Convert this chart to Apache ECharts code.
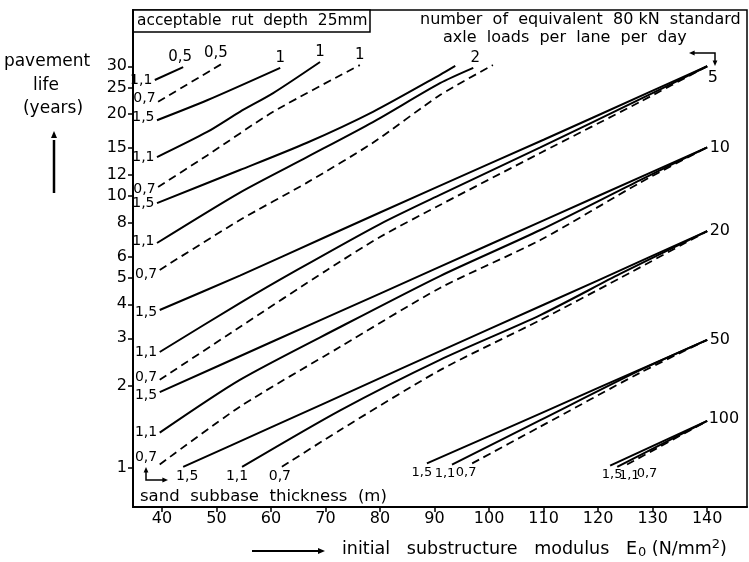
<!DOCTYPE html>
<html>
<head>
<meta charset="utf-8">
<script src="https://cdn.jsdelivr.net/npm/echarts@6/dist/echarts.min.js"></script>
<style>
  html, body { margin: 0; padding: 0; background: #fff; }
  #chart { width: 749px; height: 562px; }
</style>
</head>
<body>
<div id="chart"></div>
<script>
// tick labels
const xTicks = [40, 50, 60, 70, 80, 90, 100, 110, 120, 130, 140];
const yTicks = [1, 2, 3, 4, 5, 6, 8, 10, 12, 15, 20, 25, 30];

// curves: [E0 (N/mm2), pavement life (years)], read off the nomograph
// 0.5 axle loads / day
const n05_t11 = [[38.7, 26.7], [43.9, 29.8]];
const n05_t07 = [[39.3, 22.2], [51.2, 30.8]];
// 1
const n1_t15 = [[39.1, 19.0], [48.3, 22.5], [61.7, 29.6]];
const n1_t11 = [[39.1, 13.9], [48.3, 17.2], [54.3, 20.4], [60.4, 23.9], [69.0, 31.1]];
const n1_t07 = [[39.3, 10.8], [48.3, 14.1], [60.4, 20.4], [76.3, 30.3]];
// 2
const n2_t15 = [[39.1, 9.42], [54.3, 12.46], [66.6, 15.7], [78.7, 20.4], [91.0, 27.9], [93.8, 30.1]];
const n2_t11 = [[39.1, 6.72], [54.3, 10.3], [66.6, 13.9], [78.7, 18.7], [91.0, 26.0], [97.1, 29.6]];
const n2_t07 = [[39.6, 5.35], [54.3, 8.16], [66.6, 11.2], [78.7, 15.7], [91.0, 23.5], [100.7, 30.3]];
// 5
const n5_t15 = [[39.6, 3.81], [54.3, 5.1], [70, 7.07], [90, 10.7], [110, 16.1], [130, 24.4], [140, 30.0]];
const n5_t11 = [[39.6, 2.67], [54.3, 4.04], [64.8, 5.35], [80, 7.89], [91.0, 10.1], [109.4, 15.1], [127.7, 22.7], [140, 30.0]];
const n5_t07 = [[39.6, 2.11], [54.3, 3.30], [70.3, 5.35], [80, 7.07], [91.0, 9.27], [109.4, 14.4], [127.7, 22.2], [140, 30.0]];
// 10
const n10_t15 = [[39.6, 1.90], [60, 2.90], [80, 4.38], [100, 6.62], [120, 10.0], [140, 15.1]];
const n10_t11 = [[39.6, 1.35], [54.3, 2.11], [72.7, 3.30], [91.0, 5.08], [109.4, 7.50], [127.7, 11.45], [140, 15.1]];
const n10_t07 = [[39.6, 1.03], [54.3, 1.68], [72.7, 2.79], [91.0, 4.59], [109.4, 6.89], [127.7, 11.2], [140, 15.1]];
// 20
const n20_t15 = [[43.9, 1.01], [60, 1.41], [80, 2.14], [100, 3.24], [120, 4.90], [140, 7.43]];
const n20_t11 = [[54.7, 1.01], [72.7, 1.63], [91.0, 2.50], [109.4, 3.65], [124.0, 5.17], [140, 7.43]];
const n20_t07 = [[62.0, 1.01], [72.7, 1.38], [91.0, 2.29], [109.4, 3.50], [124.0, 4.99], [140, 7.43]];
// 50
const n50_t15 = [[88.6, 1.04], [100, 1.31], [120, 1.97], [140, 2.96]];
const n50_t11 = [[93.2, 1.03], [109.4, 1.50], [127.7, 2.29], [140, 2.96]];
const n50_t07 = [[96.9, 1.04], [109.4, 1.42], [127.7, 2.24], [140, 2.96]];
// 100
const n100_t15 = [[122.2, 1.02], [140, 1.49]];
const n100_t11 = [[123.5, 1.01], [140, 1.49]];
const n100_t07 = [[125.3, 1.03], [140, 1.49]];

const FONT = 'DejaVu Sans';
const INK = '#000';

const chart = echarts.init(document.getElementById('chart'));

function curve(d, dashed) {
  return {
    type: 'line',
    data: d,
    showSymbol: false,
    smooth: 0.25,
    silent: true,
    lineStyle: { color: INK, width: dashed ? 1.8 : 2, type: dashed ? [8, 5] : 'solid' }
  };
}

// label anchored on a curve's first or last point
function lab(pt, text, pos, offset, size) {
  return {
    value: pt,
    label: {
      show: true, formatter: text, position: pos, distance: 2,
      offset: offset || [0, 0], fontSize: size || 14, fontFamily: FONT, color: INK
    }
  };
}
const first = d => d[0];
const last = d => d[d.length - 1];

const labels = [
  // thickness at the left edge
  lab(first(n05_t11), '1,1', 'left'), lab(first(n05_t07), '0,7', 'left', [0, -3]),
  lab(first(n1_t15), '1,5', 'left', [0, -3]), lab(first(n1_t11), '1,1', 'left'), lab(first(n1_t07), '0,7', 'left', [0, 2]),
  lab(first(n2_t15), '1,5', 'left'), lab(first(n2_t11), '1,1', 'left', [0, -2]), lab(first(n2_t07), '0,7', 'left', [0, 4]),
  lab(first(n5_t15), '1,5', 'left', [0, 2]), lab(first(n5_t11), '1,1', 'left'), lab(first(n5_t07), '0,7', 'left', [0, -2]),
  lab(first(n10_t15), '1,5', 'left', [0, 3]), lab(first(n10_t11), '1,1', 'left'), lab(first(n10_t07), '0,7', 'left', [0, -7]),
  // thickness at the bottom
  lab(first(n20_t15), '1,5', 'bottom', [4, 0]), lab(first(n20_t11), '1,1', 'bottom', [-5, 0]), lab(first(n20_t07), '0,7', 'bottom', [-2, 0]),
  lab(first(n50_t15), '1,5', 'bottom', [-5, 0], 13), lab(first(n50_t11), '1,1', 'bottom', [-7, 0], 13), lab(first(n50_t07), '0,7', 'bottom', [-6, 0], 13),
  lab(first(n100_t15), '1,5', 'bottom', [2, 0], 13), lab(first(n100_t11), '1,1', 'bottom', [12, 0], 13), lab(first(n100_t07), '0,7', 'bottom', [20, 0], 13),
  // axle loads per day
  lab(last(n05_t11), '0,5', 'top', [-3, 0], 15), lab(last(n05_t07), '0,5', 'top', [-7, 0], 15),
  lab(last(n1_t15), '1', 'top', [0, 0], 15), lab(last(n1_t11), '1', 'top', [0, 0], 15), lab(last(n1_t07), '1', 'top', [0, 0], 15),
  lab(last(n2_t11), '2', 'top', [2, 0], 15),
  lab(last(n5_t15), '5', 'right', [-2, 12], 16), lab(last(n10_t15), '10', 'right', [0, 0], 16),
  lab(last(n20_t15), '20', 'right', [0, 0], 16), lab(last(n50_t15), '50', 'right', [0, 0], 16),
  lab(last(n100_t15), '100', 'right', [-1, -2], 16)
];

const series = [
  curve(n05_t11, false), curve(n05_t07, true),
  curve(n1_t15, false), curve(n1_t11, false), curve(n1_t07, true),
  curve(n2_t15, false), curve(n2_t11, false), curve(n2_t07, true),
  curve(n5_t15, false), curve(n5_t11, false), curve(n5_t07, true),
  curve(n10_t15, false), curve(n10_t11, false), curve(n10_t07, true),
  curve(n20_t15, false), curve(n20_t11, false), curve(n20_t07, true),
  curve(n50_t15, false), curve(n50_t11, false), curve(n50_t07, true),
  curve(n100_t15, false), curve(n100_t11, false), curve(n100_t07, true),
  {
    // scatter defaults to 0.8 opacity, which the labels inherit
    type: 'scatter', data: labels, symbolSize: 1, silent: true,
    itemStyle: { color: 'rgba(0,0,0,0)', opacity: 1 }
  }
];

function txt(x, y, text, size, align, extra) {
  return {
    type: 'text', x: x, y: y, silent: true,
    style: Object.assign({
      text: text, fontSize: size, fontFamily: FONT, fill: INK,
      align: align || 'left', verticalAlign: 'middle'
    }, extra || {})
  };
}
function arrowHead(x, y, dir, s) {
  // small filled triangle pointing in dir
  s = s || 5;
  let pts;
  if (dir === 'up') pts = [[x, y], [x - s * 0.6, y + s * 1.4], [x + s * 0.6, y + s * 1.4]];
  if (dir === 'down') pts = [[x, y], [x - s * 0.6, y - s * 1.4], [x + s * 0.6, y - s * 1.4]];
  if (dir === 'right') pts = [[x, y], [x - s * 1.4, y - s * 0.6], [x - s * 1.4, y + s * 0.6]];
  if (dir === 'left') pts = [[x, y], [x + s * 1.4, y - s * 0.6], [x + s * 1.4, y + s * 0.6]];
  return { type: 'polygon', silent: true, shape: { points: pts }, style: { fill: INK } };
}
function seg(points, w) {
  return { type: 'polyline', silent: true, shape: { points: points }, style: { stroke: INK, lineWidth: w || 1.5, fill: null } };
}

const option = {
  animation: false,
  backgroundColor: '#fff',
  grid: { left: 133, right: 2, top: 10, bottom: 55, show: true, borderColor: INK, borderWidth: 1.5 },
  xAxis: {
    type: 'value', min: 34.7, max: 147.3,
    axisLine: { show: true, lineStyle: { color: INK, width: 2 } },
    axisTick: { show: true, length: 5, customValues: xTicks, lineStyle: { color: INK, width: 1.5 } },
    axisLabel: { customValues: xTicks, fontSize: 16, fontFamily: FONT, color: INK, margin: 4 },
    splitLine: { show: false }
  },
  yAxis: {
    type: 'log', logBase: 10, min: 0.719, max: 48.3,
    axisLine: { show: true, lineStyle: { color: INK, width: 2 } },
    axisTick: { show: true, length: 5, customValues: yTicks, lineStyle: { color: INK, width: 1.5 } },
    axisLabel: { customValues: yTicks, fontSize: 16, fontFamily: FONT, color: INK, margin: 6 },
    splitLine: { show: false },
    minorTick: { show: false }
  },
  graphic: [
    // rut depth box
    { type: 'rect', silent: true, shape: { x: 133, y: 10, width: 237, height: 22 }, style: { fill: '#fff', stroke: INK, lineWidth: 1.5 } },
    txt(137, 21, 'acceptable  rut  depth  25mm', 15.4),
    // traffic caption
    txt(420, 20, 'number  of  equivalent  80 kN  standard', 16),
    txt(443, 38, 'axle  loads  per  lane  per  day', 16),
    seg([[693, 53], [715, 53], [715, 63]], 1.5),
    arrowHead(689, 53, 'left', 4), arrowHead(715, 66, 'down', 4),
    // y axis name
    txt(47, 62, 'pavement', 17, 'center'),
    txt(46, 86, 'life', 17, 'center'),
    txt(53, 109, '(years)', 17, 'center'),
    seg([[54, 193], [54, 140]], 2.5),
    arrowHead(54, 131, 'up', 5),
    // subbase caption + corner arrow
    txt(140, 497, 'sand  subbase  thickness  (m)', 16.5),
    seg([[146, 472], [146, 480], [163, 480]], 1.5),
    arrowHead(146, 467, 'up', 4), arrowHead(168, 480, 'right', 4),
    // x axis name
    seg([[252, 551], [318, 551]], 2),
    arrowHead(325, 551, 'right', 5),
    {
      type: 'text', x: 342, y: 549, silent: true,
      style: {
        text: 'initial   substructure   modulus   E{sub|0} (N/mm{sup|2})',
        fontSize: 17.5, fontFamily: FONT, fill: INK, verticalAlign: 'middle',
        rich: {
          sub: { fontSize: 13, fontFamily: FONT, fill: INK, padding: [8, 0, 0, 1] },
          sup: { fontSize: 13, fontFamily: FONT, fill: INK, padding: [0, 0, 8, 0] }
        }
      }
    }
  ],
  series: series
};

chart.setOption(option);
</script>
</body>
</html>
